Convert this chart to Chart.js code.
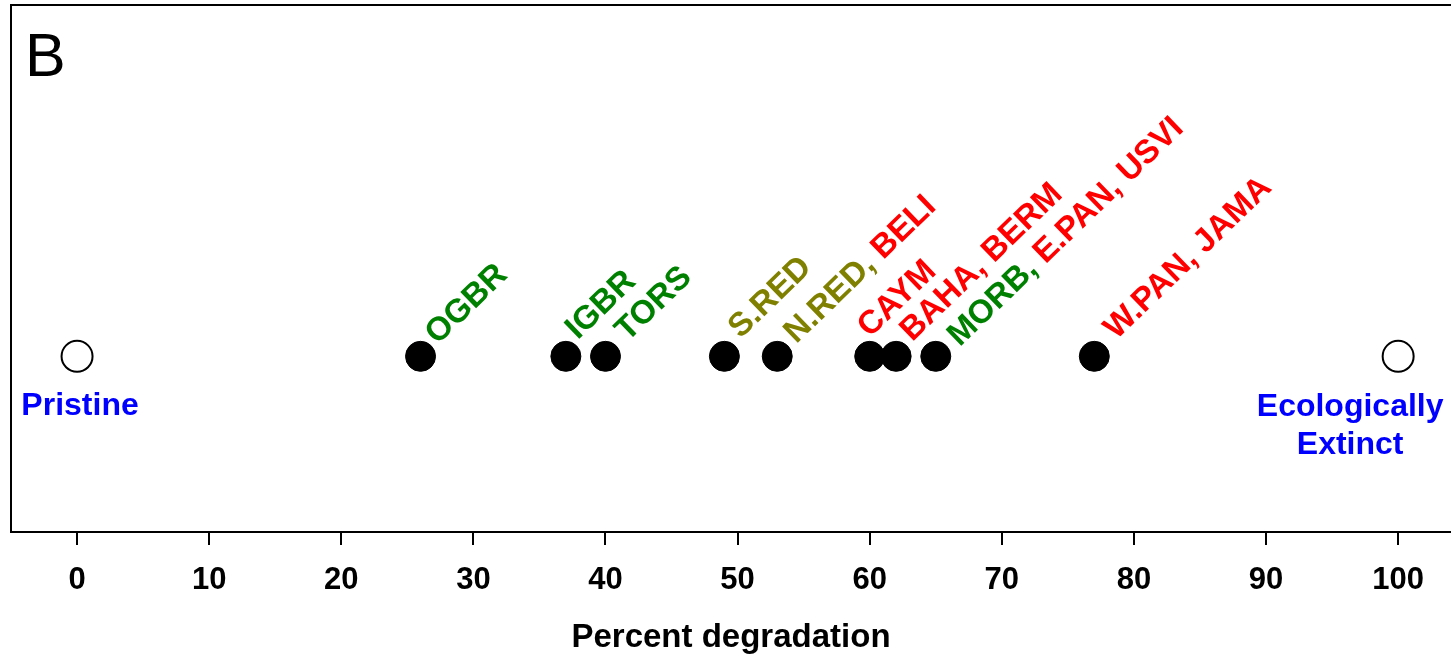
<!DOCTYPE html>
<html>
<head>
<meta charset="utf-8">
<script src="https://cdn.jsdelivr.net/npm/chart.js@4.4.1/dist/chart.umd.min.js"></script>
<style>
  html, body { margin: 0; padding: 0; background: #ffffff; }
  #wrap { width: 1451px; height: 658px; }
</style>
</head>
<body>
<div id="wrap"><canvas id="c" width="1451" height="658"></canvas></div>
<script>
// ---- data ----
const percentDegradation = [26, 37, 40, 49, 53, 60, 62, 65, 77];
const siteGroups = [
  ["OGBR"], ["IGBR"], ["TORS"], ["S.RED"], ["N.RED", "BELI"], ["CAYM"],
  ["BAHA", "BERM"], ["MORB", "E.PAN", "USVI"], ["W.PAN", "JAMA"]
];
const siteRegions = [
  ["g"], ["g"], ["g"], ["o"], ["o", "r"], ["r"], ["r", "r"], ["g", "r", "r"], ["r", "r"]
];
const endpointValues = [0, 100];
const endpointLabels = [["Pristine"], ["Ecologically", "Extinct"]];
const tickValues = [0, 10, 20, 30, 40, 50, 60, 70, 80, 90, 100];
const axisTitle = "Percent degradation";
const panelLetter = "B";

// ---- styling ----
const regionColors = { g: "#008000", o: "#808000", r: "#ff0000" };
const FONT = '"Liberation Sans", Arial, Helvetica, sans-serif';

const framePlugin = {
  id: 'frame',
  afterDraw(chart) {
    const { ctx, chartArea: a } = chart;
    ctx.save();
    ctx.strokeStyle = '#000';
    ctx.lineWidth = 2;
    ctx.beginPath();
    ctx.moveTo(a.left, a.bottom);
    ctx.lineTo(a.left, a.top);
    ctx.lineTo(a.right, a.top);
    ctx.stroke();
    ctx.fillStyle = '#000';
    ctx.font = '61px ' + FONT;
    ctx.textAlign = 'left';
    ctx.textBaseline = 'alphabetic';
    ctx.fillText(panelLetter, a.left + 14, a.top + 71);
    ctx.restore();
  }
};

const labelPlugin = {
  id: 'siteLabels',
  afterDatasetsDraw(chart, args, opts) {
    const ctx = chart.ctx;
    const meta = chart.getDatasetMeta(0);
    ctx.save();
    ctx.font = 'bold 33px ' + FONT;
    ctx.textAlign = 'left';
    ctx.textBaseline = 'alphabetic';
    meta.data.forEach((pt, i) => {
      const off = opts.offsets[i];
      ctx.save();
      ctx.translate(pt.x + off[0], pt.y + off[1]);
      ctx.rotate(-opts.angle * Math.PI / 180);
      let x = 0;
      const names = siteGroups[i];
      names.forEach((name, j) => {
        const txt = name + (j < names.length - 1 ? ',' : '');
        ctx.fillStyle = regionColors[siteRegions[i][j]];
        ctx.fillText(txt, x, 0);
        x += ctx.measureText(txt + ' ').width;
      });
      ctx.restore();
    });
    const meta2 = chart.getDatasetMeta(1);
    ctx.font = 'bold 32px ' + FONT;
    ctx.fillStyle = '#0000ff';
    ctx.textAlign = 'center';
    meta2.data.forEach((pt, i) => {
      const off = opts.endOffsets[i];
      endpointLabels[i].forEach((line, k) => {
        ctx.fillText(line, pt.x + off[0], pt.y + off[1] + k * 38);
      });
    });
    ctx.restore();
  }
};

new Chart(document.getElementById('c'), {
  type: 'scatter',
  data: {
    datasets: [
      {
        data: percentDegradation.map(v => ({ x: v, y: 1 })),
        backgroundColor: '#000',
        borderColor: '#000',
        borderWidth: 1,
        pointRadius: 15,
        pointHoverRadius: 15
      },
      {
        data: endpointValues.map(v => ({ x: v, y: 1 })),
        backgroundColor: '#fff',
        borderColor: '#000',
        borderWidth: 2,
        pointRadius: 15.5,
        pointHoverRadius: 15.5
      }
    ]
  },
  options: {
    responsive: false,
    animation: false,
    events: [],
    layout: { autoPadding: false, padding: { left: 11, top: 5, right: 0, bottom: 0 } },
    plugins: {
      legend: { display: false },
      tooltip: { enabled: false },
      siteLabels: {
        angle: 44,
        offsets: [[17, -11], [12, -16], [22, -14], [16, -17], [19, -12], [0, -18], [16, -14], [24, -9], [22, -16]],
        endOffsets: [[3, 59], [-48, 60]]
      }
    },
    scales: {
      x: {
        type: 'linear',
        min: -5,
        max: 104,
        afterBuildTicks(scale) { scale.ticks = tickValues.map(v => ({ value: v })); },
        afterFit(scale) { scale.height = 126; },
        grid: { drawOnChartArea: false, drawTicks: true, tickLength: 13, color: '#000', lineWidth: 2 },
        border: { display: true, color: '#000', width: 2 },
        ticks: {
          color: '#000',
          font: { family: FONT, size: 31, weight: 'bold' },
          padding: 17,
          maxRotation: 0,
          autoSkip: false
        },
        title: {
          display: true,
          text: axisTitle,
          color: '#000',
          font: { family: FONT, size: 33, weight: 'bold' },
          padding: { top: 0, bottom: 0 }
        }
      },
      y: { display: false, min: 0, max: 3 }
    }
  },
  plugins: [framePlugin, labelPlugin]
});
</script>
</body>
</html>
